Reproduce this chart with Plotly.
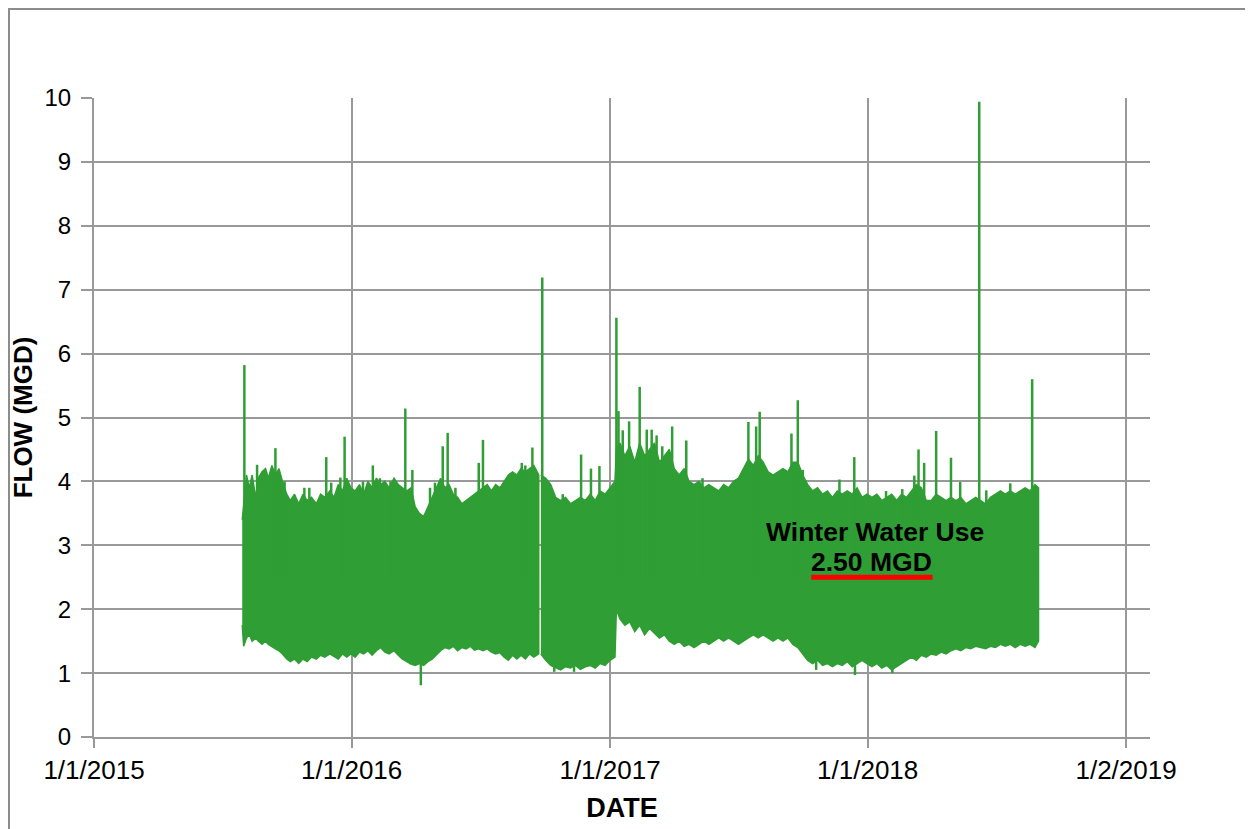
import plotly.graph_objects as go

# ---------------- data ----------------
# Segment A: start of record to the short gap in late Sep 2016
seg_a_dates = [
    "2015-07-30", "2015-08-01", "2015-08-05", "2015-08-09", "2015-08-13", "2015-08-18", "2015-08-22", "2015-08-27",
    "2015-09-01", "2015-09-05", "2015-09-10", "2015-09-15", "2015-09-20", "2015-09-25",
    "2015-10-01", "2015-10-06", "2015-10-12", "2015-10-18", "2015-10-24", "2015-10-30",
    "2015-11-05", "2015-11-12", "2015-11-18", "2015-11-24",
    "2015-12-01", "2015-12-07", "2015-12-13", "2015-12-19", "2015-12-25", "2015-12-31",
    "2016-01-06", "2016-01-12", "2016-01-18", "2016-01-24", "2016-01-30",
    "2016-02-05", "2016-02-11", "2016-02-17", "2016-02-23",
    "2016-03-01", "2016-03-07", "2016-03-13", "2016-03-19", "2016-03-25", "2016-03-31",
    "2016-04-06", "2016-04-12", "2016-04-18", "2016-04-24", "2016-04-30",
    "2016-05-06", "2016-05-12", "2016-05-18", "2016-05-24", "2016-05-30",
    "2016-06-05", "2016-06-11", "2016-06-17", "2016-06-23", "2016-06-29",
    "2016-07-05", "2016-07-11", "2016-07-17", "2016-07-23", "2016-07-29",
    "2016-08-04", "2016-08-10", "2016-08-16", "2016-08-22", "2016-08-28",
    "2016-09-03", "2016-09-09", "2016-09-15", "2016-09-22",
]
seg_a_high = [
    3.4, 3.6, 4.1, 3.9, 4.1, 3.75, 4.05, 4.15,
    4.2, 4.05, 4.25, 4.1, 4.2, 4.0,
    3.8, 3.7, 3.8, 3.65, 3.8, 3.7,
    3.75, 3.65, 3.8, 3.75,
    3.85, 3.75, 3.95, 3.85, 4.05, 3.9,
    3.85, 3.95, 3.8, 4.0, 3.9,
    4.05, 3.95, 4.0, 3.9,
    4.05, 3.95, 3.9, 3.85, 3.9, 3.6,
    3.5, 3.45, 3.6, 3.75, 3.9,
    4.05, 3.9, 3.95, 3.8, 3.75,
    3.65, 3.7, 3.75, 3.8, 3.85,
    3.9, 3.95, 3.85, 3.95, 3.9,
    4.0, 4.1, 4.15, 4.1, 4.2,
    4.15, 4.2, 4.25, 4.1,
]
seg_a_low = [
    1.75, 1.42, 1.55, 1.6, 1.5, 1.55, 1.5, 1.45,
    1.5, 1.45, 1.42, 1.38, 1.35, 1.3,
    1.22, 1.18, 1.22, 1.15, 1.22, 1.18,
    1.25, 1.22, 1.28, 1.25,
    1.3, 1.26, 1.22, 1.3, 1.25, 1.3,
    1.25, 1.33, 1.3, 1.35, 1.28,
    1.35, 1.4, 1.33, 1.3,
    1.35, 1.28, 1.22, 1.18, 1.14, 1.12,
    1.15, 1.12, 1.18, 1.22, 1.28,
    1.35, 1.4, 1.38, 1.42, 1.35,
    1.4, 1.38, 1.42, 1.36, 1.38,
    1.35, 1.38, 1.33, 1.3, 1.32,
    1.25, 1.2, 1.28, 1.22, 1.28,
    1.22, 1.3, 1.25, 1.3,
]

# Segment B: after the gap to end of record
seg_b_dates = [
    "2016-09-25", "2016-10-02", "2016-10-09", "2016-10-16", "2016-10-23", "2016-10-30",
    "2016-11-06", "2016-11-13", "2016-11-20", "2016-11-27",
    "2016-12-04", "2016-12-11", "2016-12-18", "2016-12-25",
    "2017-01-01", "2017-01-08", "2017-01-10", "2017-01-15", "2017-01-22", "2017-01-29",
    "2017-02-05", "2017-02-12", "2017-02-19", "2017-02-26",
    "2017-03-05", "2017-03-12", "2017-03-19", "2017-03-26",
    "2017-04-02", "2017-04-09", "2017-04-16", "2017-04-23", "2017-04-30",
    "2017-05-07", "2017-05-14", "2017-05-21", "2017-05-28",
    "2017-06-04", "2017-06-11", "2017-06-18", "2017-06-25",
    "2017-07-02", "2017-07-09", "2017-07-16", "2017-07-23", "2017-07-30",
    "2017-08-06", "2017-08-13", "2017-08-20", "2017-08-27",
    "2017-09-03", "2017-09-10", "2017-09-17", "2017-09-24",
    "2017-10-01", "2017-10-08", "2017-10-15", "2017-10-22", "2017-10-29",
    "2017-11-05", "2017-11-12", "2017-11-19", "2017-11-26",
    "2017-12-03", "2017-12-10", "2017-12-17", "2017-12-24", "2017-12-31",
    "2018-01-07", "2018-01-14", "2018-01-21", "2018-01-28",
    "2018-02-04", "2018-02-11", "2018-02-18", "2018-02-25",
    "2018-03-04", "2018-03-11", "2018-03-18", "2018-03-25",
    "2018-04-01", "2018-04-08", "2018-04-15", "2018-04-22", "2018-04-29",
    "2018-05-06", "2018-05-13", "2018-05-20", "2018-05-27",
    "2018-06-03", "2018-06-10", "2018-06-17", "2018-06-24",
    "2018-07-01", "2018-07-08", "2018-07-15", "2018-07-22", "2018-07-29",
    "2018-08-05", "2018-08-12", "2018-08-19", "2018-08-26", "2018-08-31",
]
seg_b_high = [
    4.1, 4.05, 3.95, 3.75, 3.7, 3.75,
    3.65, 3.7, 3.75, 3.7,
    3.8, 3.7, 3.85, 3.8,
    3.9, 4.0, 4.5, 4.6, 4.4, 4.55,
    4.3, 4.6, 4.4, 4.5,
    4.6, 4.3, 4.4, 4.5,
    4.2, 4.1, 4.2, 4.0, 3.95,
    4.0, 3.9, 3.95, 3.9,
    3.85, 3.95, 3.9, 4.0,
    4.05, 4.2, 4.35, 4.25, 4.4,
    4.3, 4.15, 4.1, 4.15,
    4.2, 4.15, 4.3, 4.3,
    4.1, 3.95, 3.85, 3.9, 3.8,
    3.85, 3.75, 3.85, 3.8,
    3.85, 3.8, 3.9, 3.75, 3.8,
    3.75, 3.8, 3.7, 3.75,
    3.8, 3.7, 3.8, 3.75,
    3.85, 3.95, 3.9, 3.7,
    3.7, 3.8, 3.75, 3.7, 3.75,
    3.7, 3.75, 3.65, 3.7,
    3.75, 3.7, 3.65, 3.75,
    3.8, 3.85, 3.8, 3.85, 3.8,
    3.85, 3.9, 3.85, 3.95, 3.9,
]
seg_b_low = [
    1.3, 1.2, 1.12, 1.08, 1.05, 1.1,
    1.08, 1.12, 1.06, 1.1,
    1.12, 1.08, 1.15, 1.12,
    1.2, 1.25, 2.0, 1.85, 1.75, 1.8,
    1.65, 1.75, 1.6, 1.7,
    1.62, 1.55, 1.6, 1.5,
    1.45, 1.5, 1.42, 1.45, 1.4,
    1.45, 1.5, 1.45, 1.5,
    1.55, 1.5, 1.55, 1.5,
    1.45, 1.5, 1.55, 1.6, 1.55,
    1.6, 1.55, 1.5, 1.55,
    1.5, 1.55, 1.45, 1.4,
    1.3, 1.2, 1.15, 1.2, 1.12,
    1.15, 1.1, 1.15, 1.12,
    1.18, 1.1, 1.15, 1.2, 1.15,
    1.1, 1.15, 1.08, 1.12,
    1.05, 1.1, 1.15, 1.2,
    1.25, 1.2, 1.28, 1.25,
    1.3, 1.28, 1.33, 1.3, 1.35,
    1.38, 1.35, 1.4, 1.38,
    1.42, 1.4, 1.38, 1.42,
    1.4, 1.45, 1.42, 1.45, 1.4,
    1.45, 1.42, 1.45, 1.4, 1.5,
]

# Short-duration peaks above the daily band
peak_dates = [
    "2015-08-02", "2015-08-20", "2015-08-24", "2015-09-15", "2015-09-21", "2015-09-28", "2015-10-26",
    "2015-11-02", "2015-11-26", "2015-12-03", "2015-12-16", "2015-12-22",
    "2016-01-17", "2016-01-31", "2016-02-10", "2016-02-25", "2016-03-17", "2016-03-27",
    "2016-04-21", "2016-04-28", "2016-05-09", "2016-05-16", "2016-05-27",
    "2016-06-29", "2016-07-05", "2016-08-05", "2016-08-29", "2016-09-03", "2016-09-13", "2016-09-27",
    "2016-10-26", "2016-11-21", "2016-12-05", "2016-12-17",
    "2017-01-10", "2017-01-13", "2017-01-19", "2017-01-28", "2017-02-12", "2017-02-22",
    "2017-03-01", "2017-03-08", "2017-03-16", "2017-03-30", "2017-04-19", "2017-05-12",
    "2017-06-19", "2017-07-16", "2017-07-27", "2017-08-01", "2017-09-15", "2017-09-24",
    "2017-10-01", "2017-11-22", "2017-12-13",
    "2018-01-27", "2018-02-19", "2018-03-08", "2018-03-14", "2018-03-22", "2018-04-08",
    "2018-04-29", "2018-05-12", "2018-06-08", "2018-06-18", "2018-07-22", "2018-08-22",
]
peak_values = [
    5.82, 4.26, 4.1, 4.52, 4.1, 4.0, 3.9,
    3.9, 4.38, 3.98, 4.06, 4.70,
    4.0, 4.25, 4.05, 4.0, 5.14, 4.18,
    3.9, 3.98, 4.55, 4.76, 3.9,
    4.29, 4.65, 4.0, 4.29, 4.25, 4.53, 7.19,
    3.8, 4.42, 4.2, 4.24,
    6.56, 5.10, 4.8, 4.94, 5.48, 4.81,
    4.81, 4.72, 4.55, 4.86, 4.64, 4.05,
    3.9, 4.93, 4.86, 5.09, 4.75, 5.27,
    4.18, 4.03, 4.38,
    3.85, 3.88, 4.09, 4.50, 4.29, 4.79,
    4.37, 3.99, 9.94, 3.86, 3.97, 5.60,
]
# Short-duration lows below the band
dip_dates = ["2016-04-08", "2016-10-14", "2016-11-11", "2017-10-20", "2017-12-14", "2018-02-05"]
dip_values = [0.81, 1.02, 1.02, 1.05, 0.97, 1.0]

# Winter water use annotation
winter_period = ["2017-10-13", "2018-04-03"]
winter_use = 2.50

x_tick_dates = ["2015-01-01", "2016-01-01", "2017-01-01", "2018-01-01", "2019-01-02"]
x_tick_labels = ["1/1/2015", "1/1/2016", "1/1/2017", "1/1/2018", "1/2/2019"]

# ---------------- figure ----------------
GREEN = "#2F9E34"
GRID = "#999999"
FONT = "Arial, Liberation Sans, sans-serif"

fig = go.Figure()

for d, hi, lo in [(seg_a_dates, seg_a_high, seg_a_low), (seg_b_dates, seg_b_high, seg_b_low)]:
    fig.add_trace(go.Scatter(
        x=d + d[::-1], y=hi + lo[::-1], mode="lines", fill="toself",
        fillcolor=GREEN, line=dict(color=GREEN, width=1.5), hoverinfo="skip", showlegend=False))

px, py = [], []
for d, v in zip(peak_dates, peak_values):
    px += [d, d, None]
    py += [2.5, v, None]
for d, v in zip(dip_dates, dip_values):
    px += [d, d, None]
    py += [2.0, v, None]
fig.add_trace(go.Scatter(x=px, y=py, mode="lines", line=dict(color=GREEN, width=2.5),
                         hoverinfo="skip", showlegend=False))

fig.add_trace(go.Scatter(x=winter_period, y=[winter_use, winter_use], mode="lines",
                         line=dict(color="#FF0000", width=5), hoverinfo="skip", showlegend=False))

fig.add_annotation(x="2018-01-12", y=3.21, text="<b>Winter Water Use</b>", showarrow=False,
                   font=dict(family=FONT, size=26.5, color="black"))
fig.add_annotation(x="2018-01-07", y=2.74, text="<b>%.2f MGD</b>" % winter_use, showarrow=False,
                   font=dict(family=FONT, size=26.5, color="black"))

# outer chart border
fig.add_shape(type="rect", xref="paper", yref="paper", x0=-0.0805, x1=1.2, y0=-0.3, y1=1.1393,
              line=dict(color="#8c8c8c", width=2), fillcolor="rgba(0,0,0,0)", layer="below")

fig.update_layout(
    width=1253, height=829,
    margin=dict(l=86, r=111, t=90, b=100),
    paper_bgcolor="white", plot_bgcolor="white",
    font=dict(family=FONT, color="black"),
    showlegend=False,
)
fig.update_xaxes(
    type="date", range=["2015-01-01", "2019-02-04 22:00"],
    tickvals=x_tick_dates, ticktext=x_tick_labels,
    tickfont=dict(size=26, color="black"),
    showgrid=True, gridcolor=GRID, gridwidth=2,
    showline=True, linecolor=GRID, linewidth=2,
    ticks="outside", ticklen=9, tickwidth=2, tickcolor=GRID,
    zeroline=False,
    title=dict(text="<b>DATE</b>", font=dict(size=27, color="black"), standoff=14),
)
fig.update_yaxes(
    range=[0, 10], dtick=1, tick0=0,
    tickfont=dict(size=24, color="black"),
    showgrid=True, gridcolor=GRID, gridwidth=2,
    showline=True, linecolor=GRID, linewidth=2,
    ticks="outside", ticklen=11, tickwidth=2, tickcolor=GRID,
    zeroline=False, ticklabelstandoff=5,
    title=dict(text="<b>FLOW (MGD)</b>", font=dict(size=26, color="black"), standoff=5),
)

fig.write_html("out.html")
